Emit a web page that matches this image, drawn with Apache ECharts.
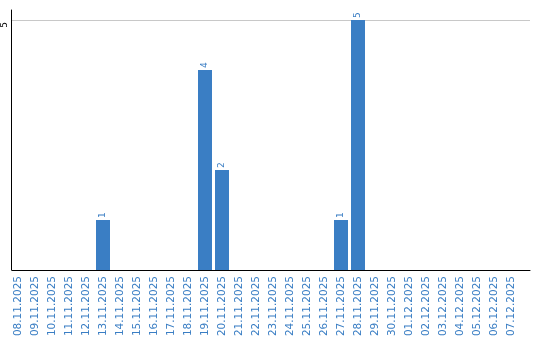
<!DOCTYPE html>
<html><head><meta charset="utf-8">
<script src="https://cdn.jsdelivr.net/npm/echarts@6/dist/echarts.min.js"></script>
<style>html,body{margin:0;padding:0;background:#fff}#c{width:540px;height:340px}</style>
</head><body><div id="c"></div>
<script>
const categories = ['08.11.2025','09.11.2025','10.11.2025','11.11.2025','12.11.2025','13.11.2025','14.11.2025','15.11.2025','16.11.2025','17.11.2025','18.11.2025','19.11.2025','20.11.2025','21.11.2025','22.11.2025','23.11.2025','24.11.2025','25.11.2025','26.11.2025','27.11.2025','28.11.2025','29.11.2025','30.11.2025','01.12.2025','02.12.2025','03.12.2025','04.12.2025','05.12.2025','06.12.2025','07.12.2025'];
const values = [null,null,null,null,null,1,null,null,null,null,null,4,2,null,null,null,null,null,null,1,5,null,null,null,null,null,null,null,null,null];
const yTicks = [5];

const blue = '#3a7ec4';
const chart = echarts.init(document.getElementById('c'), null, {renderer:'canvas'});
chart.setOption({
  animation: false,
  textStyle: {fontFamily: 'DejaVu Sans'},
  grid: [
    {left: 11, right: 10, top: 20, bottom: 70},
    {left: 9.5, width: 510, top: 20, bottom: 70},
    {left: 11, right: 10, top: 10, bottom: 70}
  ],
  xAxis: [
    {gridIndex: 0, type: 'category', data: categories, axisLine: {lineStyle: {color: '#000', width: 1}}, axisTick: {show: false}, axisLabel: {show: false}},
    {gridIndex: 1, type: 'category', data: categories, axisLine: {show: false}, axisTick: {show: false},
     axisLabel: {rotate: 90, color: blue, fontSize: 10.5, margin: 6, interval: 0, fontFamily: 'DejaVu Sans'}},
    {gridIndex: 2, type: 'category', data: categories, show: false}
  ],
  yAxis: [
    {gridIndex: 0, type: 'value', min: 0, max: 5, interval: 5, axisLine: {show: false}, axisTick: {show: false},
     splitLine: {lineStyle: {color: '#c8c8c8', width: 1}},
     axisLabel: {rotate: 90, fontSize: 9, color: '#000', margin: 3, padding: [0, 10, 0, 0], formatter: v => yTicks.includes(v) ? String(v) : ''}},
    {gridIndex: 1, type: 'value', min: 0, max: 5, interval: 5, show: false},
    {gridIndex: 2, type: 'value', min: 0, max: 1, axisLine: {show: true, lineStyle: {color: '#000', width: 1}}, axisTick: {show: false}, axisLabel: {show: false}, splitLine: {show: false}}
  ],
  series: [{
    type: 'bar', xAxisIndex: 1, yAxisIndex: 1, data: values, barWidth: 14,
    itemStyle: {color: blue},
    label: {show: true, position: 'top', rotate: 90, align: 'left', verticalAlign: 'middle', distance: 2, color: blue, fontSize: 9, fontFamily: 'DejaVu Sans'}
  }]
});
</script></body></html>
